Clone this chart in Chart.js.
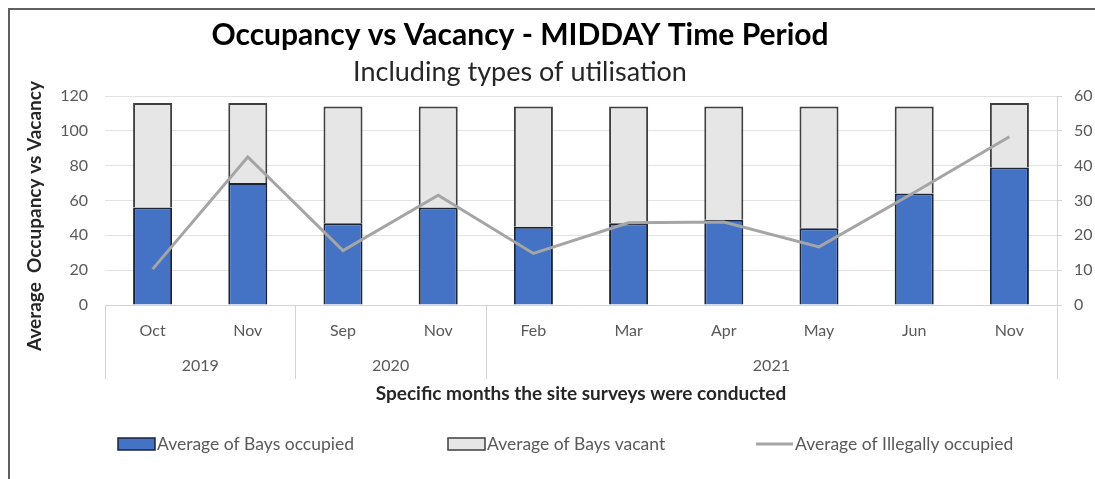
<!DOCTYPE html>
<html>
<head>
<meta charset="utf-8">
<script src="https://cdn.jsdelivr.net/npm/chart.js@4.4.1/dist/chart.umd.min.js"></script>
<style>
  html, body { margin: 0; padding: 0; background: #fff; }
  #wrap { width: 1095px; height: 479px; }
</style>
</head>
<body>
<div id="wrap"><canvas id="chart" width="1095" height="479"></canvas></div>
<script>
// survey months, grouped by year underneath
const months = ["Oct", "Nov", "Sep", "Nov", "Feb", "Mar", "Apr", "May", "Jun", "Nov"];
const yearLabels = ["2019", "2020", "2021"];
const yearSpans = [2, 2, 6];

const baysOccupied = [56, 70, 47, 56, 45, 47, 49, 44, 64, 79];
const baysVacant = [60, 46, 67, 58, 69, 67, 65, 70, 50, 37];
const illegallyOccupied = [10.3, 42.5, 15.6, 31.5, 14.8, 23.6, 23.8, 16.7, 32.3, 48.3];

const leftMax = 120, leftStep = 20;
const rightMax = 60, rightStep = 10;

const FONT = "Lato, 'Open Sans', sans-serif";
const TEXT = "#595959";
const GRID = "#e3e3e3";
const AXIS = "#d4d4d4";

// frame, titles, year row and legend are drawn by hand (Excel-style layout)
const excelBits = {
  id: "excelBits",
  beforeDraw(chart) {
    const ctx = chart.ctx;
    ctx.save();
    ctx.strokeStyle = "#5f5f5f";
    ctx.lineWidth = 2;
    ctx.beginPath();
    ctx.moveTo(9, 479);
    ctx.lineTo(9, 9);
    ctx.lineTo(1095, 9);
    ctx.stroke();
    ctx.restore();
  },
  afterDraw(chart) {
    const ctx = chart.ctx;
    const x = chart.scales.x;
    const area = chart.chartArea;
    ctx.save();

    // titles
    ctx.textAlign = "center";
    ctx.textBaseline = "middle";
    ctx.fillStyle = "#000";
    ctx.font = "bold 30px " + FONT;
    ctx.fillText("Occupancy vs Vacancy - MIDDAY Time Period", 520, 35);
    ctx.fillStyle = "#262626";
    ctx.font = "27px " + FONT;
    ctx.fillText("Including types of utilisation", 520, 72);

    // left axis title (sits a bit lower than the plot centre)
    ctx.save();
    ctx.translate(35, 216);
    ctx.rotate(-Math.PI / 2);
    ctx.font = "bold 19px " + FONT;
    ctx.fillText("Average  Occupancy vs Vacancy", 0, 0);
    ctx.restore();

    // year row + group separators
    const half = (x.getPixelForValue(1) - x.getPixelForValue(0)) / 2;
    ctx.strokeStyle = AXIS;
    ctx.lineWidth = 1;
    ctx.fillStyle = TEXT;
    ctx.font = "16px " + FONT;
    let start = 0;
    const edges = [area.left];
    yearLabels.forEach((yr, i) => {
      const end = start + yearSpans[i] - 1;
      const cx = (x.getPixelForValue(start) + x.getPixelForValue(end)) / 2;
      ctx.fillText(yr, cx, 366);
      edges.push(x.getPixelForValue(end) + half);
      start = end + 1;
    });
    edges.forEach((ex) => {
      ctx.beginPath();
      ctx.moveTo(Math.round(ex) + 0.5, area.bottom);
      ctx.lineTo(Math.round(ex) + 0.5, 379);
      ctx.stroke();
    });

    // legend
    const legendX = [118, 448, 756];
    const ly = 444;
    ctx.textAlign = "left";
    ctx.font = "17.5px " + FONT;
    chart.data.datasets.forEach((ds, i) => {
      const lx = legendX[i];
      if (ds.type === "line") {
        ctx.strokeStyle = ds.borderColor;
        ctx.lineWidth = 3;
        ctx.beginPath();
        ctx.moveTo(lx, ly);
        ctx.lineTo(lx + 37, ly);
        ctx.stroke();
      } else {
        ctx.fillStyle = ds.backgroundColor;
        ctx.fillRect(lx, ly - 6, 37, 12);
        ctx.strokeStyle = ds.borderColor;
        ctx.lineWidth = 1.5;
        ctx.strokeRect(lx, ly - 6, 37, 12);
      }
      ctx.fillStyle = TEXT;
      ctx.fillText(ds.label, lx + 39, ly);
    });
    ctx.restore();
  },
};

new Chart(document.getElementById("chart"), {
  data: {
    labels: months,
    datasets: [
      {
        type: "bar",
        label: "Average of Bays occupied",
        data: baysOccupied,
        backgroundColor: "#4472c4",
        borderColor: "#1a2438",
        borderWidth: 2,
        yAxisID: "y",
        order: 1,
      },
      {
        type: "bar",
        label: "Average of Bays vacant",
        data: baysVacant,
        backgroundColor: "#e7e6e6",
        borderColor: "#3f3f3f",
        borderWidth: 2,
        yAxisID: "y",
        order: 1,
      },
      {
        type: "line",
        label: "Average of Illegally occupied",
        data: illegallyOccupied,
        borderColor: "#a5a5a5",
        borderWidth: 3,
        pointRadius: 0,
        tension: 0,
        yAxisID: "y1",
        order: 0,
      },
    ],
  },
  options: {
    responsive: false,
    animation: false,
    devicePixelRatio: 1,
    layout: { padding: { top: 96, bottom: 74, left: 0, right: 0 } },
    datasets: { bar: { barPercentage: 0.41, categoryPercentage: 1 } },
    plugins: {
      legend: { display: false },
      tooltip: { enabled: false },
    },
    scales: {
      x: {
        stacked: true,
        grid: { display: false, drawTicks: false },
        border: { color: AXIS },
        ticks: { color: TEXT, font: { family: FONT, size: 16 }, padding: 16, maxRotation: 0 },
        title: {
          display: true,
          text: "Specific months the site surveys were conducted",
          color: "#262626",
          font: { family: FONT, size: 19, weight: "bold" },
          padding: { top: 0, bottom: 0 },
        },
        afterFit(scale) { scale.height = 100; },
      },
      y: {
        stacked: true,
        min: 0,
        max: leftMax,
        ticks: { stepSize: leftStep, color: TEXT, font: { family: FONT, size: 16 }, padding: 17 },
        grid: { color: GRID, drawTicks: false },
        border: { display: false },
        afterFit(scale) { scale.width = 105; },
      },
      y1: {
        position: "right",
        min: 0,
        max: rightMax,
        ticks: { stepSize: rightStep, color: TEXT, font: { family: FONT, size: 16 }, padding: 12 },
        grid: { drawOnChartArea: false, color: AXIS, tickLength: 5 },
        border: { color: AXIS },
        afterFit(scale) { scale.width = 38; },
      },
    },
  },
  plugins: [excelBits],
});
</script>
</body>
</html>
